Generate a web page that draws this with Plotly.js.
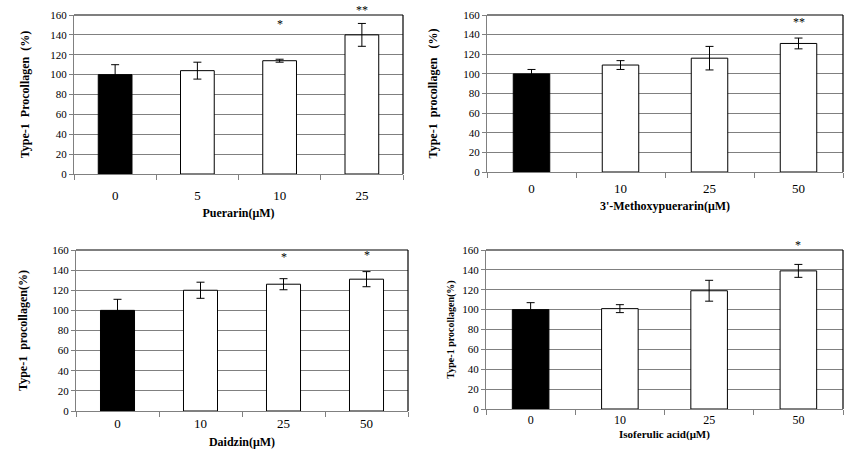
<!DOCTYPE html>
<html><head><meta charset="utf-8">
<script src="https://cdn.plot.ly/plotly-3.0.1.min.js"></script>
<style>html,body{margin:0;padding:0;background:#fff}#c{width:859px;height:469px}</style>
</head><body><div id="c"></div>
<script>
// ---- data ----
const doses1 = ['0','5','10','25'];
const vals1 = [100, 104, 114, 140];
const errs1 = [10, 8.5, 1.5, 11.5];
const stars1 = ['', '', '*', '**'];
const starY1 = [0, 0, 151, 165];

const doses2 = ['0','10','25','50'];
const vals2 = [100, 109, 116, 131];
const errs2 = [4.5, 4.5, 12, 5.5];
const stars2 = ['', '', '', '**'];
const starY2 = [0, 0, 0, 153];

const doses3 = ['0','10','25','50'];
const vals3 = [100, 120, 126, 131];
const errs3 = [11, 8, 5.5, 7.5];
const stars3 = ['', '', '*', '*'];
const starY3 = [0, 0, 153, 155];

const doses4 = ['0','10','25','50'];
const vals4 = [100, 101, 119, 139];
const errs4 = [7, 4, 10.5, 6.5];
const stars4 = ['', '', '', '*'];
const starY4 = [0, 0, 0, 165];

const yTitles = ['Type-1  Procollagen  (%)', 'Type-1  procollagen   (%)', 'Type-1  procollagen(%)', 'Type-1 procollagen(%)'];
const xTitles = ['Puerarin(μM)', "3'-Methoxypuerarin(μM)", 'Daidzin(μM)', 'Isoferulic acid(μM)'];
const yTicks = [0, 20, 40, 60, 80, 100, 120, 140, 160];

// ---- layout geometry (pixels) ----
const W = 859, H = 469;
const boxes = [
  {l: 74, r: 403, t: 15, b: 174, ystand: 18, xstand: 7, xlab: 9, xtf: 13, yfs: 12, xfs: 12},
  {l: 487, r: 843, t: 15, b: 172, ystand: 23, xstand: 7, xlab: 4, xtf: 13, yfs: 12, xfs: 12},
  {l: 76, r: 408, t: 250, b: 411, ystand: 22, xstand: 8, xlab: 7.5, xtf: 13, yfs: 12, xfs: 12},
  {l: 486, r: 843, t: 250, b: 409, ystand: 5, xstand: 3, xlab: 5.5, xtf: 12, yfs: 10, xfs: 11}
];
const datasets = [
  [doses1, vals1, errs1, stars1, starY1],
  [doses2, vals2, errs2, stars2, starY2],
  [doses3, vals3, errs3, stars3, starY3],
  [doses4, vals4, errs4, stars4, starY4]
];

const font = 'Liberation Serif, Times New Roman, serif';
const traces = [], annotations = [], shapes = [];
const layout = {
  width: W, height: H, margin: {l: 0, r: 0, t: 0, b: 0},
  paper_bgcolor: '#fff', plot_bgcolor: '#fff', showlegend: false,
  font: {family: font, color: '#000', size: 11}
};

datasets.forEach((d, i) => {
  const [cats, vals, errs, stars, starY] = d;
  const n = i + 1;
  const xa = n === 1 ? 'x' : 'x' + n, ya = n === 1 ? 'y' : 'y' + n;
  const bx = boxes[i];
  traces.push({
    type: 'bar', x: cats, y: vals, xaxis: xa, yaxis: ya, width: 0.41,
    marker: {color: cats.map((c, k) => k === 0 ? '#000' : '#fff'), line: {color: '#000', width: 1}},
    error_y: {type: 'data', array: errs, visible: true, color: '#000', thickness: 1, width: 4},
    hoverinfo: 'skip'
  });
  layout['xaxis' + (n === 1 ? '' : n)] = {
    domain: [bx.l / W, bx.r / W], anchor: ya, type: 'category',
    categoryorder: 'array', categoryarray: cats, range: [-0.5, cats.length - 0.5],
    showline: true, linecolor: '#808080', linewidth: 1,
    ticks: 'outside', tickson: 'boundaries', ticklen: 5, tickcolor: '#808080',
    ticklabelstandoff: bx.xlab,
    showgrid: false, tickangle: 0, tickfont: {family: font, size: bx.xtf, color: '#000'},
    title: {text: '<b>' + xTitles[i] + '</b>', font: {family: font, size: bx.xfs, color: '#000'}, standoff: bx.xstand},
    fixedrange: true
  };
  layout['yaxis' + (n === 1 ? '' : n)] = {
    domain: [1 - bx.b / H, 1 - bx.t / H], anchor: xa, range: [0, 160],
    tickvals: yTicks, showline: true, linecolor: '#808080', linewidth: 1,
    ticks: 'outside', ticklen: 4, tickcolor: '#808080',
    showgrid: true, gridcolor: '#808080', gridwidth: 1, zeroline: false,
    tickfont: {family: font, size: 11, color: '#000'},
    title: {text: '<b>' + yTitles[i] + '</b>', font: {family: font, size: bx.yfs, color: '#000'}, standoff: bx.ystand},
    fixedrange: true
  };
  // top and right black frame
  shapes.push({type: 'line', xref: xa + ' domain', yref: ya + ' domain', x0: 0, x1: 1, y0: 1, y1: 1, line: {color: '#000', width: 1.2}});
  shapes.push({type: 'line', xref: xa + ' domain', yref: ya + ' domain', x0: 1, x1: 1, y0: 0, y1: 1, line: {color: '#000', width: 1.2}});
  const pxPerUnit = (bx.b - bx.t) / 160;
  stars.forEach((s, k) => {
    if (!s) return;
    const yy = Math.min(starY[k], 160);
    annotations.push({xref: xa, yref: ya, x: k, y: yy, yshift: (starY[k] - yy) * pxPerUnit,
      text: s, showarrow: false, font: {family: font, size: 12, color: '#000'}});
  });
});
layout.annotations = annotations;
layout.shapes = shapes;
Plotly.newPlot('c', traces, layout, {displayModeBar: false, staticPlot: true});
</script>
</body></html>
